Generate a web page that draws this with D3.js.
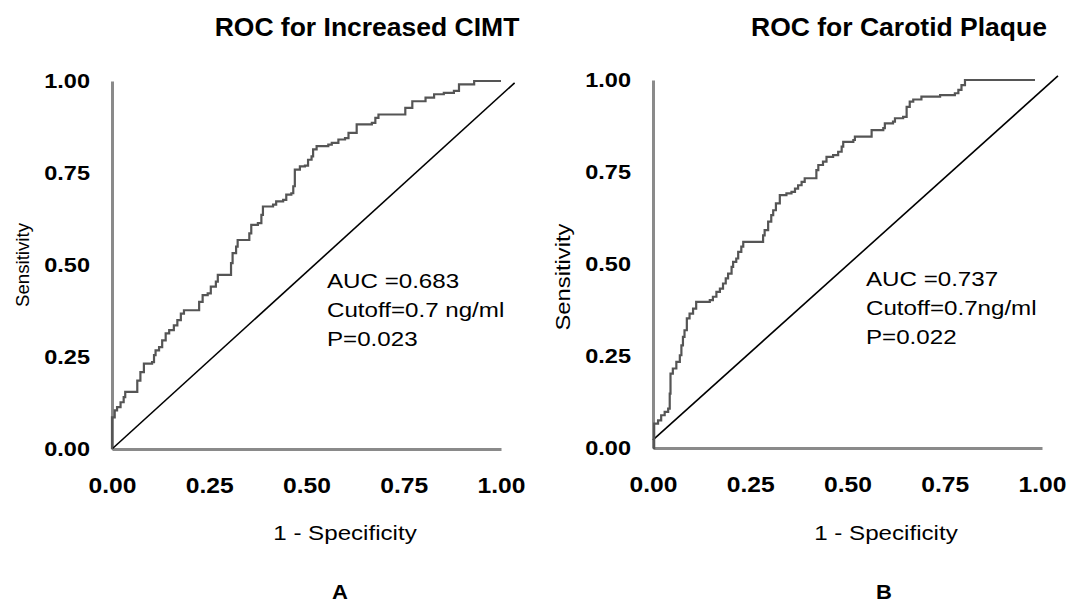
<!DOCTYPE html>
<html>
<head>
    <title>ROC curves - CIMT and Carotid Plaque</title>
    <script src="https://d3js.org/d3.v7.min.js"></script>
    <style>
        body { margin: 0; background: #fff; }
        text { font-family: "Liberation Sans", Arial, sans-serif; fill: #000; }
        .title { font-size: 25px; font-weight: bold; }
        .tick text { font-weight: bold; }
        .axis .domain { stroke: #8a8a8a; stroke-width: 3; }
        .axis-label { font-size: 21px; }
        .note { font-size: 21px; }
        .panel-tag { font-size: 20px; font-weight: bold; }
        .roc { fill: none; stroke: #555; stroke-width: 2.2; }
        .ref { fill: none; stroke: #000; stroke-width: 1.6; }
    </style>
</head>
<body>
    <svg width="1070" height="604"></svg>
    <script>
        // Panel A: ROC for Increased CIMT (1 - specificity, sensitivity)
        var fprA = [0, 0, .007, .013, .022, .030, .034, .060, .065, .073, .082, .103, .108, .112, .121, .129,
            .138, .147, .159, .168, .177, .185, .220, .224, .233, .246, .254, .267, .272, .302, .306, .310,
            .319, .323, .345, .353, .358, .375, .384, .388, .414, .422, .440, .448, .461, .466, .470, .483,
            .496, .504, .513, .517, .526, .556, .565, .582, .599, .608, .629, .668, .677, .685, .746, .754,
            .772, .806, .828, .853, .879, .892, .931, 1.0];
        var tprA = [0, .086, .105, .114, .127, .141, .155, .155, .186, .209, .232, .236, .255, .268, .277, .295,
            .314, .323, .336, .350, .368, .377, .377, .400, .418, .423, .441, .455, .473, .473, .505, .532,
            .550, .568, .568, .586, .609, .614, .636, .659, .664, .673, .677, .691, .695, .714, .759, .768,
            .770, .786, .795, .814, .823, .827, .832, .841, .845, .859, .882, .886, .900, .909, .909, .927,
            .945, .955, .964, .968, .973, .991, 1.0, 1.0];

        // Panel B: ROC for Carotid Plaque
        var fprB = [0, .003, .013, .021, .030, .039, .043, .045, .051, .060, .069, .073, .077, .081, .087, .094,
            .103, .111, .146, .154, .163, .172, .180, .187, .193, .202, .206, .214, .219, .227, .232, .274,
            .283, .287, .296, .304, .309, .316, .326, .343, .356, .365, .373, .382, .390, .412, .420, .425,
            .437, .446, .463, .476, .485, .489, .515, .519, .557, .562, .592, .596, .617, .622, .643, .652,
            .660, .669, .690, .738, .776, .785, .793, .802, .982];
        var tprB = [0, .066, .075, .089, .098, .107, .148, .202, .216, .234, .252, .279, .302, .320, .352, .365,
            .379, .397, .402, .411, .424, .433, .447, .461, .474, .492, .506, .515, .533, .547, .560, .560,
            .578, .592, .615, .633, .646, .665, .687, .692, .696, .705, .714, .723, .733, .733, .755, .769,
            .778, .791, .796, .805, .819, .832, .837, .846, .846, .864, .869, .882, .887, .896, .900, .927,
            .941, .947, .955, .959, .964, .973, .986, 1.0, 1.0];

        // reference (chance) lines as drawn in the figure
        var refXA = [0, 1.035], refYA = [0, 0.995];
        var refXB = [0, 1.041], refYB = [0.022, 1.011];

        var tickValues = [0, 0.25, 0.5, 0.75, 1];
        var titles = ["ROC for Increased CIMT", "ROC for Carotid Plaque"];
        var notesA = ["AUC =0.683", "Cutoff=0.7 ng/ml", "P=0.023"];
        var notesB = ["AUC =0.737", "Cutoff=0.7ng/ml", "P=0.022"];
        var tags = ["A", "B"];

        var svg = d3.select("svg");

        // the source figure is stretched sideways, so text is widened to match
        function widen(sel, k) {
            sel.each(function() {
                var t = d3.select(this), x = +t.attr("x") || 0, y = +t.attr("y") || 0;
                t.attr("transform", "translate(" + x + "," + y + ") scale(" + k + ",1) translate(" + (-x) + "," + (-y) + ")");
            });
        }

        var panels = [
            {fpr: fprA, tpr: tprA, refX: refXA, refY: refYA, notes: notesA, title: titles[0], tag: tags[0],
             x0: 112, x1: 501, y0: 449, y1: 81, titleX: 367, ylabX: 23, ylabY: 265, ylabLen: 84, ylabSize: 18.5,
             noteX: 327, noteY: 288, xlabX: 345, tagX: 340},
            {fpr: fprB, tpr: tprB, refX: refXB, refY: refYB, notes: notesB, title: titles[1], tag: tags[1],
             x0: 653, x1: 1042, y0: 448, y1: 80, titleX: 899, ylabX: 563, ylabY: 277, ylabLen: 107, ylabSize: 20,
             noteX: 866, noteY: 286, xlabX: 886, tagX: 884}
        ];

        panels.forEach(function(p) {
            var x = d3.scaleLinear().domain([0, 1]).range([p.x0, p.x1]);
            var y = d3.scaleLinear().domain([0, 1]).range([p.y0, p.y1]);

            var title = svg.append("text")
                .attr("class", "title")
                .attr("x", p.titleX).attr("y", 36)
                .attr("text-anchor", "middle")
                .text(p.title);
            widen(title, 1.06);

            var gx = svg.append("g")
                .attr("class", "axis")
                .attr("transform", "translate(0," + p.y0 + ")")
                .call(d3.axisBottom(x).tickValues(tickValues).tickSize(0).tickPadding(28)
                    .tickFormat(d3.format(".2f")));
            gx.selectAll(".tick text").style("font-size", "22px");
            widen(gx.selectAll(".tick text"), 1.12);

            var gy = svg.append("g")
                .attr("class", "axis")
                .attr("transform", "translate(" + p.x0 + ",0)")
                .call(d3.axisLeft(y).tickValues(tickValues).tickSize(0).tickPadding(22)
                    .tickFormat(d3.format(".2f")));
            gy.selectAll(".tick text").style("font-size", "21px");
            widen(gy.selectAll(".tick text"), 1.12);

            svg.selectAll(".axis text").attr("fill", "#000");

            var xl = svg.append("text")
                .attr("class", "axis-label")
                .attr("x", p.xlabX).attr("y", 540)
                .attr("text-anchor", "middle")
                .text("1 - Specificity");
            widen(xl, 1.15);

            svg.append("text")
                .attr("transform", "translate(" + p.ylabX + "," + p.ylabY + ") rotate(-90)")
                .attr("text-anchor", "middle")
                .attr("dy", "0.35em")
                .attr("textLength", p.ylabLen)
                .attr("lengthAdjust", "spacingAndGlyphs")
                .style("font-size", p.ylabSize + "px")
                .text("Sensitivity");

            // chance line
            var ref = d3.zip(p.refX, p.refY);
            svg.append("path")
                .attr("class", "ref")
                .attr("d", d3.line().x(function(d) { return x(d[0]); }).y(function(d) { return y(d[1]); })(ref));

            // ROC curve
            var pts = d3.zip(p.fpr, p.tpr);
            svg.append("path")
                .attr("class", "roc")
                .attr("d", d3.line()
                    .x(function(d) { return x(d[0]); })
                    .y(function(d) { return y(d[1]); })
                    .curve(d3.curveStepAfter)(pts));

            var note = svg.append("g").selectAll("text")
                .data(p.notes)
                .enter().append("text")
                .attr("class", "note")
                .attr("x", p.noteX)
                .attr("y", function(d, i) { return p.noteY + i * 29; })
                .text(function(d) { return d; });
            widen(note, 1.15);

            var tag = svg.append("text")
                .attr("class", "panel-tag")
                .attr("x", p.tagX).attr("y", 599)
                .attr("text-anchor", "middle")
                .text(p.tag);
            widen(tag, 1.1);
        });
    </script>
</body>
</html>
